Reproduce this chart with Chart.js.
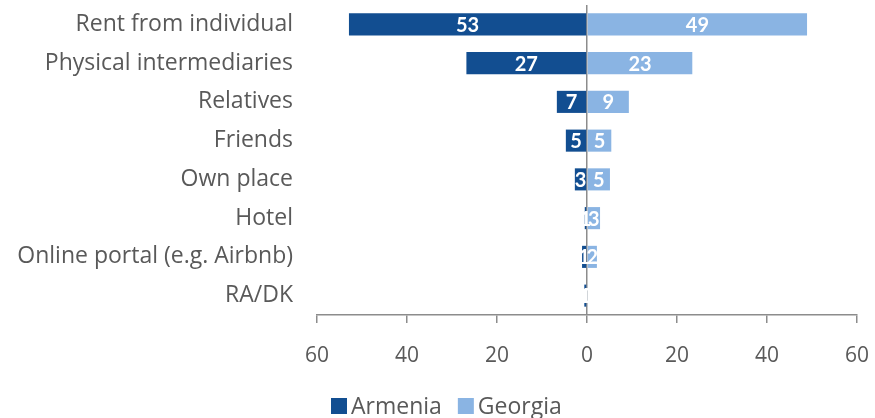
<!DOCTYPE html>
<html lang="en">
<head>
    <meta charset="UTF-8">
    <title>Accommodation source</title>
    <style>
        html, body { margin: 0; padding: 0; background: #ffffff; }
        #wrap { width: 875px; height: 418px; position: relative; }
    </style>
</head>
<body>
    <div id="wrap"><canvas id="chart"></canvas></div>

    <script src="https://cdn.jsdelivr.net/npm/chart.js"></script>
    <script>
        // categories top to bottom
        const categories = ['Rent from individual', 'Physical intermediaries', 'Relatives', 'Friends',
            'Own place', 'Hotel', 'Online portal (e.g. Airbnb)', 'RA/DK'];
        // shares in percent
        const armenia = [52.9, 26.8, 6.7, 4.7, 2.7, 0.5, 1.1, 0.6];
        const georgia = [48.9, 23.4, 9.3, 5.4, 5.1, 2.9, 2.2, 0.2];
        const xTicks = [-60, -40, -20, 0, 20, 40, 60];

        const textGray = '#595959';
        const axisGray = '#8c8c8c';
        const fontFamily = '"Open Sans", Lato, sans-serif';

        // white value labels in the middle of each bar
        const barLabels = {
            id: 'barLabels',
            afterDatasetsDraw(chart) {
                const ctx = chart.ctx;
                ctx.save();
                ctx.fillStyle = '#ffffff';
                ctx.font = 'bold 20px Lato, sans-serif';
                ctx.textAlign = 'center';
                ctx.textBaseline = 'middle';
                chart.data.datasets.forEach((ds, i) => {
                    const meta = chart.getDatasetMeta(i);
                    meta.data.forEach((bar, j) => {
                        const v = Math.round(Math.abs(ds.data[j]));
                        ctx.fillText(String(v), (bar.x + bar.base) / 2, bar.y + 1);
                    });
                });
                ctx.restore();
            }
        };

        // legend drawn by hand so the box/text gaps match the original
        const bottomLegend = {
            id: 'bottomLegend',
            afterDraw(chart) {
                const ctx = chart.ctx;
                const box = 16, gap = 4, spacing = 16;
                const cy = 406;
                ctx.save();
                ctx.font = '23px ' + fontFamily;
                ctx.textBaseline = 'middle';
                let x = 331;
                chart.data.datasets.forEach(ds => {
                    ctx.fillStyle = ds.backgroundColor;
                    ctx.fillRect(x, cy - box / 2, box, box);
                    x += box + gap;
                    ctx.fillStyle = textGray;
                    ctx.fillText(ds.label, x, cy + 1);
                    x += ctx.measureText(ds.label).width + spacing;
                });
                ctx.restore();
            }
        };

        new Chart(document.getElementById('chart'), {
            type: 'bar',
            data: {
                labels: categories,
                datasets: [{
                    label: 'Armenia',
                    data: armenia.map(v => -v),
                    backgroundColor: '#124e91',
                    barPercentage: 0.57,
                    categoryPercentage: 1
                }, {
                    label: 'Georgia',
                    data: georgia,
                    backgroundColor: '#8ab4e3',
                    barPercentage: 0.57,
                    categoryPercentage: 1
                }]
            },
            options: {
                indexAxis: 'y',
                responsive: true,
                maintainAspectRatio: false,
                animation: false,
                layout: { padding: { top: 5, right: 18, left: 0, bottom: 40 } },
                scales: {
                    x: {
                        stacked: true,
                        min: -60,
                        max: 60,
                        afterBuildTicks: scale => { scale.ticks = xTicks.map(v => ({ value: v })); },
                        afterFit: scale => {
                            scale.height = 63;
                            scale.paddingLeft = 0;
                            scale.paddingRight = 0;
                        },
                        border: { display: true, color: axisGray, width: 1.5 },
                        grid: {
                            color: c => (c.tick && c.tick.value === 0) ? axisGray : 'rgba(0,0,0,0)',
                            lineWidth: 1.5,
                            tickColor: axisGray,
                            tickLength: 8,
                            drawTicks: true
                        },
                        ticks: {
                            color: textGray,
                            padding: 20,
                            font: { family: fontFamily, size: 21 },
                            maxRotation: 0,
                            callback: v => Math.abs(v)
                        }
                    },
                    y: {
                        stacked: true,
                        afterFit: scale => {
                            scale.width = 317;
                            scale.paddingTop = 0;
                            scale.paddingBottom = 0;
                        },
                        border: { display: false },
                        grid: { display: false, drawTicks: false },
                        ticks: {
                            color: textGray,
                            padding: 24,
                            font: { family: fontFamily, size: 23 }
                        }
                    }
                },
                plugins: {
                    legend: { display: false },
                    tooltip: { enabled: false }
                }
            },
            plugins: [barLabels, bottomLegend]
        });
    </script>
</body>
</html>
